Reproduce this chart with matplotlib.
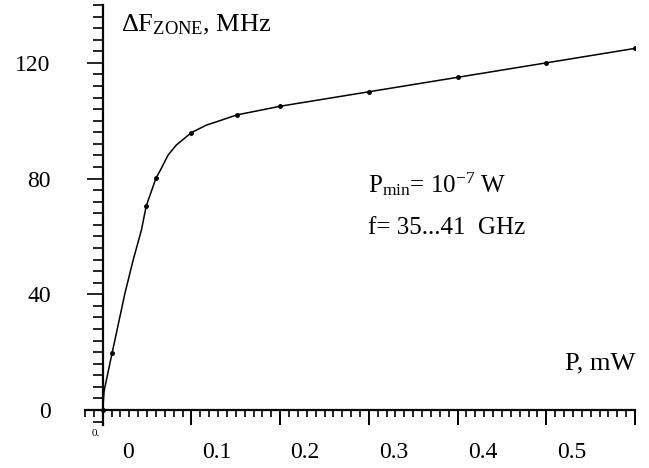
import matplotlib
matplotlib.use("Agg")
import matplotlib.pyplot as plt
from matplotlib.ticker import MultipleLocator, FixedLocator, FixedFormatter
from matplotlib.transforms import ScaledTranslation

plt.rcParams['font.family'] = ['Liberation Serif', 'DejaVu Serif']
plt.rcParams['mathtext.fontset'] = 'custom'
plt.rcParams['mathtext.rm'] = 'Liberation Serif'
plt.rcParams['mathtext.it'] = 'Liberation Serif:italic'

# measured points (dots)
dot_p = [0.0, 0.0105, 0.049, 0.060, 0.10, 0.151, 0.20, 0.30, 0.40, 0.50, 0.60]
dot_f = [0.0, 19.6, 70.5, 80.1, 95.9, 102.0, 105.0, 110.0, 115.0, 120.0, 125.0]

# curve
curve_p = [0.0, 0.0015, 0.0105, 0.025, 0.034, 0.0436, 0.049, 0.060,
           0.066, 0.0736, 0.083, 0.10, 0.117, 0.132, 0.151, 0.166, 0.20, 0.30,
           0.40, 0.50, 0.60]
curve_f = [0.0, 6.5, 19.6, 40.3, 51.5, 62.2, 70.5, 80.1,
           83.5, 88.1, 91.6, 95.9, 98.5, 100.0, 102.0, 102.9, 105.0, 110.0,
           115.0, 120.0, 125.0]

x_major = [0.0, 0.1, 0.2, 0.3, 0.4, 0.5, 0.6]
x_labels = ['0', '0.1', '0.2', '0.3', '0.4', '0.5', '']
y_major = [0, 40, 80, 120]

fig = plt.figure(figsize=(6.49, 4.68), dpi=100)
ax = fig.add_axes([85 / 649, 1 - 425 / 468, 550 / 649, 420 / 468])

ax.plot(curve_p, curve_f, color='black', lw=1.1)
ax.plot(dot_p, dot_f, 'o', color='black', ms=2.5)

ax.set_xlim(-0.02, 0.6)
ax.set_ylim(-5.2, 140)

ax.spines['left'].set_position(('data', 0))
ax.spines['bottom'].set_position(('data', 0))
ax.spines['top'].set_visible(False)
ax.spines['right'].set_visible(False)
for s in ('left', 'bottom'):
    ax.spines[s].set_linewidth(1.6)

ax.xaxis.set_major_locator(FixedLocator(x_major))
ax.xaxis.set_major_formatter(FixedFormatter(x_labels))
ax.xaxis.set_minor_locator(MultipleLocator(0.01))
ax.yaxis.set_major_locator(FixedLocator(y_major))
ax.yaxis.set_minor_locator(MultipleLocator(4))

ax.tick_params(axis='x', which='major', direction='out', length=11, width=1.4, pad=12, labelsize=17)
ax.tick_params(axis='x', which='minor', direction='out', length=5, width=1.2)
ax.tick_params(axis='y', which='major', direction='out', length=11.5, width=1.2, pad=26, labelsize=17)
ax.tick_params(axis='y', which='minor', direction='out', length=7, width=1.2)

# tick labels in the scan sit to the right of their ticks
shift = ScaledTranslation(0.25, 0, fig.dpi_scale_trans)
for lbl in ax.get_xticklabels():
    lbl.set_transform(lbl.get_transform() + shift)

ax.text(-0.008, -6.5, '0.', fontsize=8, ha='center', va='top')

ax.text(0.021, 133, r'$\Delta$F$_{\mathrm{ZONE}}$, MHz', fontsize=19, ha='left', va='center')
ax.text(0.6, 16, 'P, mW', fontsize=19, ha='right', va='center')
ax.text(0.299, 78, r'P$_{\mathrm{min}}$= 10$^{\mathrm{-7}}$ W', fontsize=18, ha='left', va='center')
ax.text(0.299, 63, 'f= 35...41  GHz', fontsize=18, ha='left', va='center')

fig.savefig('out.png', dpi=100)
